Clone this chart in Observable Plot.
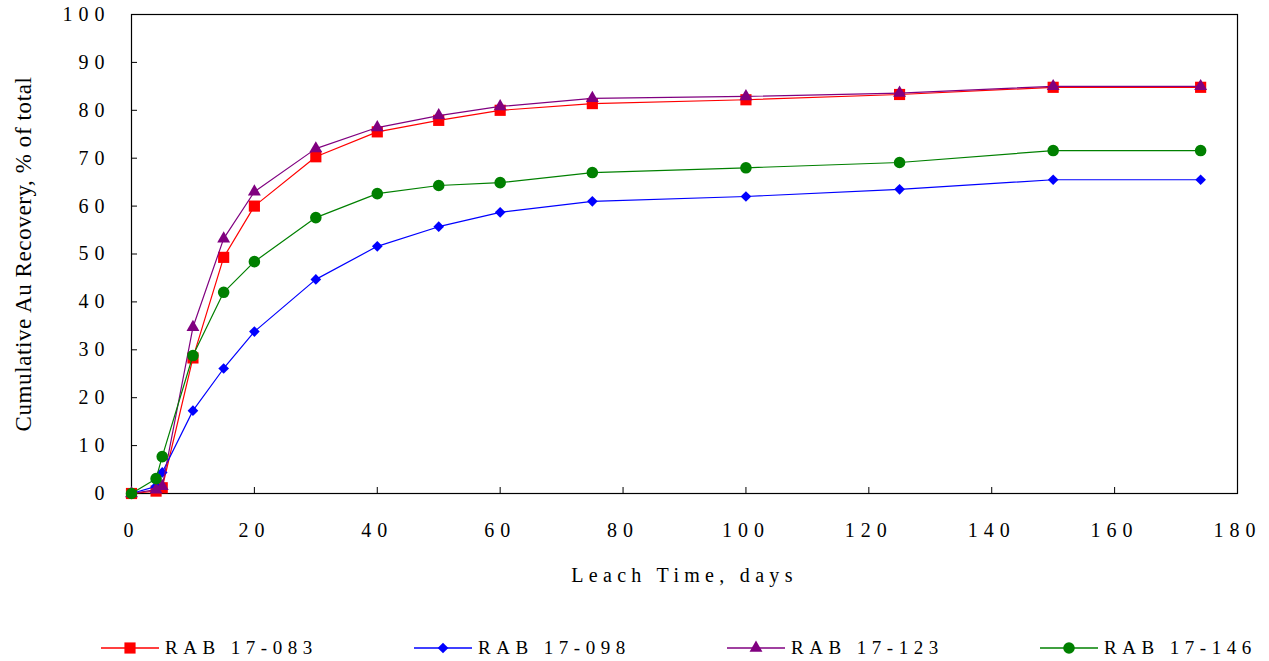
<!DOCTYPE html>
<html>
<head>
<meta charset="utf-8">
<script src="https://cdn.jsdelivr.net/npm/d3@7"></script>
<script src="https://cdn.jsdelivr.net/npm/@observablehq/plot@0.6"></script>
<style>
  body { margin: 0; background: #fff; width: 1269px; height: 661px; overflow: hidden; font-family: "Liberation Serif", "DejaVu Serif", serif; }
  #chart svg { display: block; }
  #chart g[aria-label="y-axis tick label"] text { letter-spacing: 6px; }
  #chart g[aria-label="x-axis tick label"] text { letter-spacing: 6px; }
  #chart g[aria-label="x-axis label"] text { letter-spacing: 5.3px; }
  #chart g[aria-label="text"] text { letter-spacing: 0.6px; }
  #legend { position: relative; height: 61px; }
  .item { position: absolute; top: 36px; display: flex; align-items: center; height: 24px; }
  .item span { font-size: 19px; letter-spacing: 5.5px; margin-left: 6px; color: #000; }
</style>
</head>
<body>
<div id="chart"></div>
<div id="legend"></div>
<script>
const days = [0, 4, 5, 10, 15, 20, 30, 40, 50, 60, 75, 100, 125, 150, 174];
const seriesNames = ["RAB 17-083", "RAB 17-098", "RAB 17-123", "RAB 17-146"];
const rab083 = [0, 0.5, 1.2, 28.3, 49.3, 60.0, 70.3, 75.5, 77.9, 80.0, 81.4, 82.2, 83.3, 84.8, 84.8];
const rab098 = [0, 1.5, 4.4, 17.3, 26.1, 33.8, 44.7, 51.6, 55.7, 58.7, 61.0, 62.0, 63.5, 65.5, 65.5];
const rab123 = [0, 0.8, 1.5, 34.7, 53.2, 63.0, 72.0, 76.4, 78.9, 80.8, 82.5, 82.9, 83.6, 85.0, 85.0];
const rab146 = [0, 3.1, 7.7, 28.8, 42.0, 48.4, 57.6, 62.6, 64.3, 64.9, 67.0, 68.0, 69.1, 71.6, 71.6];
const xTicks = [0, 20, 40, 60, 80, 100, 120, 140, 160, 180];
const yTicks = [0, 10, 20, 30, 40, 50, 60, 70, 80, 90, 100];

const colors = ["#ff0000", "#0000ff", "#800080", "#008000"];
const symbols = ["square", "diamond2", "triangle", "circle"];
const radii = [6.3, 4.8, 4.8, 5.8];
const allValues = [rab083, rab098, rab123, rab146];

const width = 1269, height = 600;
const mL = 131, mR = 32, mT = 14, mB = 107;
const frameW = width - mL - mR, frameH = height - mT - mB;

const marks = [];
allValues.forEach((vals, i) => {
  const data = days.map((d, j) => ({day: d, value: vals[j], series: seriesNames[i]}));
  marks.push(Plot.line(data, {x: "day", y: "value", stroke: colors[i], strokeWidth: 1.2}));
  marks.push(Plot.dot(data, {x: "day", y: "value", symbol: () => symbols[i], fill: colors[i], stroke: "none", r: radii[i]}));
});

const chart = Plot.plot({
  width, height,
  marginLeft: mL, marginRight: mR, marginTop: mT, marginBottom: mB,
  style: {fontFamily: "'Liberation Serif', serif", fontSize: "20px", color: "#000", background: "#fff"},
  x: {domain: [0, 180]},
  y: {domain: [0, 100]},
  symbol: {type: "identity"},
  marks: [
    Plot.axisX({ticks: xTicks, tickSize: 0, tickPadding: 29, fontSize: 20, label: "Leach Time, days", labelAnchor: "center", labelArrow: "none", labelOffset: 88}),
    Plot.axisY({ticks: yTicks, tickSize: 0, tickPadding: 21, fontSize: 20, label: null}),
    Plot.text(["Cumulative Au Recovery, % of total"], {frameAnchor: "left", dx: -108, rotate: -90, textAnchor: "middle", fontSize: 23, fill: "black"}),
    Plot.tickX(xTicks, {x: d => d, insetTop: frameH - 6, stroke: "black"}),
    Plot.tickY(yTicks, {y: d => d, insetRight: frameW - 6, stroke: "black"}),
    Plot.frame({stroke: "black", strokeWidth: 1.2}),
    ...marks
  ]
});
document.getElementById("chart").appendChild(chart);

// legend
const legend = document.getElementById("legend");
const starts = [101, 414, 727, 1040];
seriesNames.forEach((name, i) => {
  const item = document.createElement("div");
  item.className = "item";
  item.style.left = starts[i] + "px";
  const sym = d3.symbol(d3["symbol" + ({square: "Square", diamond2: "Diamond2", triangle: "Triangle", circle: "Circle"})[symbols[i]]], Math.PI * radii[i] * radii[i]);
  item.innerHTML = `<svg width="58" height="24"><line x1="0" x2="58" y1="12" y2="12" stroke="${colors[i]}" stroke-width="1.5"/><path transform="translate(29,12)" d="${sym()}" fill="${colors[i]}"/></svg><span>${name}</span>`;
  legend.appendChild(item);
});
</script>
</body>
</html>
